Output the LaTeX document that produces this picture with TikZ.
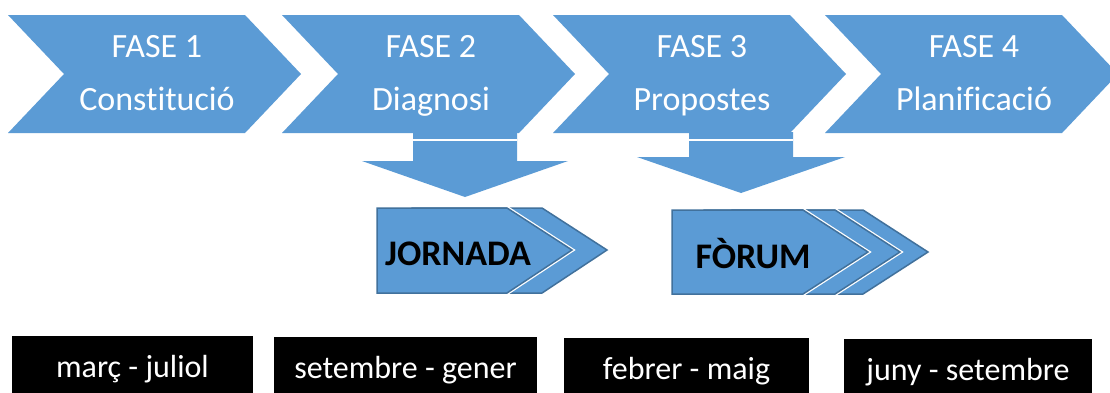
\documentclass[tikz,border=0pt]{standalone}
\usepackage{fontspec}
\setmainfont{Carlito}[Ligatures={NoCommon}]
\definecolor{blau}{HTML}{5B9BD5}
\definecolor{blaufosc}{HTML}{41719C}
\begin{document}
\begin{tikzpicture}[x=1pt, y=-1pt,
                    fase/.style = {anchor = base,
                                   text = white,
                                   inner sep = 0pt,
                                   font = \fontsize{34}{40}\selectfont},
                    acte/.style = {fill = blau,
                                   draw = blaufosc,
                                   line width = 1.5pt,
                                   line join = miter},
                    vora/.style = {draw = white,
                                   line width = 4pt},
                    nomacte/.style = {anchor = base,
                                      inner sep = 0pt,
                                      font = \fontsize{36}{40}\selectfont\bfseries},
                    periode/.style = {fill = black,
                                      text = white,
                                      inner sep = 0pt,
                                      minimum height = 68pt,
                                      text height = 20pt,
                                      text depth = 6pt,
                                      font = \fontsize{32}{36}\selectfont}]
		\clip (0,0) rectangle (1110,392);
		\fill[white] (0,0) rectangle (1110,392);
		% fases
		\foreach \x/\n/\t in {8/1/Constitució, 282/2/Diagnosi,
		                      553/3/Propostes, 825/4/Planificació} {
			\fill[blau] (\x,15) -- ++(237,0) -- ++(56,59) -- ++(-56,59)
			            -- ++(-237,0) -- ++(56,-59) -- cycle;
			\node[fase] (fase\n) at (\x+149,57) {FASE \n};
			\node[fase] (nom\n) at (\x+149,110) {\t};
		}
		% fletxes cap avall
		\fill[blau] (413,132) -- (517,132) -- (517,161) -- (568,161)
		            -- (465,197) -- (362,161) -- (413,161) -- cycle;
		\draw[white, line width = 1.5pt] (413,140) -- (517,140);
		\fill[blau] (689,132) -- (793,132) -- (793,157) -- (845,157)
		            -- (741,193) -- (637,157) -- (689,157) -- cycle;
		\draw[white, line width = 1.5pt] (689,140) -- (793,140);
		% jornada
		\path[acte] (412,208) -- (542,208) -- (607,250) -- (542,293) -- (412,293) -- cycle;
		\path[vora] (507,208) -- (572,250) -- (507,293);
		\path[acte] (377,208) -- (507,208) -- (572,250) -- (507,293) -- (377,293) -- cycle;
		\node[nomacte] (jornada) at (458,265) {JORNADA};
		% forum
		\path[acte] (732,210) -- (863,210) -- (928,252) -- (863,294) -- (732,294) -- cycle;
		\path[vora] (835,210) -- (900,252) -- (835,294);
		\path[acte] (704,210) -- (835,210) -- (900,252) -- (835,294) -- (704,294) -- cycle;
		\path[vora] (803,210) -- (868,252) -- (803,294);
		\path[acte] (672,210) -- (803,210) -- (868,252) -- (803,294) -- (672,294) -- cycle;
		\node[nomacte] (forum) at (753,268) {FÒRUM};
		% periodes
		\node[periode, minimum width = 241pt] (p1) at (132.5,370) {març - juliol};
		\node[periode, minimum width = 263pt] (p2) at (405.5,371) {setembre - gener};
		\node[periode, minimum width = 245pt] (p3) at (686.5,372) {febrer - maig};
		\node[periode, minimum width = 248pt] (p4) at (968,373) {juny - setembre};
	\end{tikzpicture}
\end{document}
